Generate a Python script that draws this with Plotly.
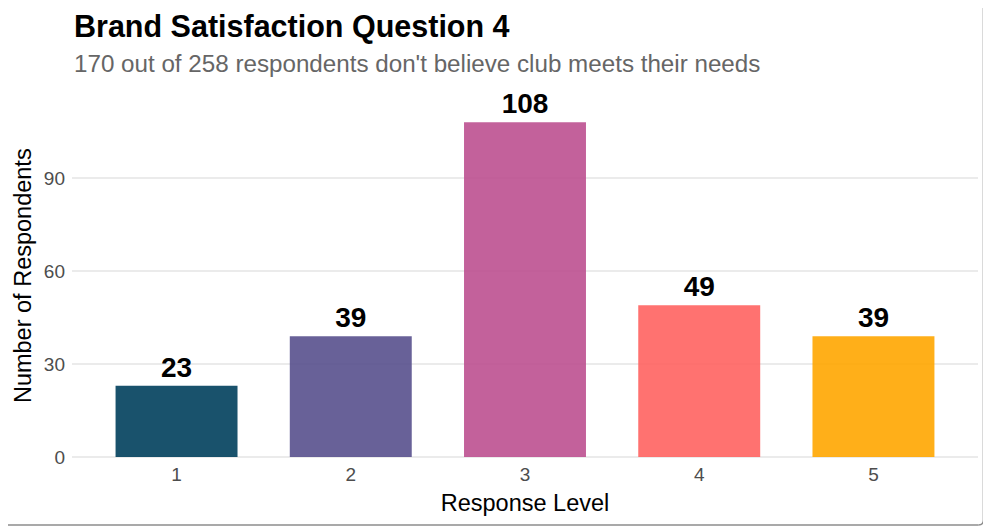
import plotly.graph_objects as go

# data
levels = ["1", "2", "3", "4", "5"]
counts = [23, 39, 108, 49, 39]
bar_colors = ["#003f5c", "#58508d", "#bc5090", "#ff6361", "#ffa600"]

title = "Brand Satisfaction Question 4"
subtitle = "170 out of 258 respondents don't believe club meets their needs"
x_title = "Response Level"
y_title = "Number of Respondents"

FONT = "Liberation Sans, Arial, sans-serif"

fig = go.Figure()
fig.add_trace(go.Bar(
    x=levels, y=counts,
    marker=dict(color=bar_colors, line=dict(width=0), opacity=0.9),
    width=0.7,
    text=[str(c) for c in counts],
    textposition="outside",
    textfont=dict(family=FONT, size=28, color="black", weight="bold"),
    cliponaxis=False,
    showlegend=False,
))

# title + subtitle as annotations so they sit where the reference has them
fig.add_annotation(text=f"<b>{title}</b>", xref="paper", yref="paper",
                   x=0, y=1.19, xanchor="left", yanchor="middle", showarrow=False,
                   font=dict(size=30.5, color="black", family=FONT))
fig.add_annotation(text=subtitle, xref="paper", yref="paper",
                   x=0, y=1.086, xanchor="left", yanchor="middle", showarrow=False,
                   font=dict(size=24.2, color="#666666", family=FONT))
# y axis title placed by hand (closer to the ticks than plotly allows)
fig.add_annotation(text=y_title, xref="paper", yref="paper",
                   x=-0.054, y=0.5, xanchor="center", yanchor="middle",
                   textangle=-90, showarrow=False,
                   font=dict(size=23.5, color="black", family=FONT))

# card outline: bottom edge, rounded corner, right edge
border = dict(color="#8c8c8c", width=1.5)
fig.add_shape(type="line", xref="paper", yref="paper",
              x0=-0.08, x1=1.0005, y0=-0.1878, y1=-0.1878, line=border)
fig.add_shape(type="path", xref="paper", yref="paper",
              path="M 1.0005,-0.1878 Q 1.006,-0.1878 1.006,-0.174", line=border)
fig.add_shape(type="line", xref="paper", yref="paper",
              x0=1.006, x1=1.006, y0=-0.174, y1=1.25, line=border)

fig.update_layout(
    width=981, height=518,
    margin=dict(l=64, r=11, t=87, b=69),
    paper_bgcolor="white",
    plot_bgcolor="white",
    font=dict(family=FONT),
    xaxis=dict(
        title=dict(text=x_title, font=dict(size=23.5, color="black"), standoff=10),
        tickfont=dict(size=19, color="#4d4d4d"),
        ticklabelstandoff=4,
        showgrid=False, zeroline=False, showline=False,
        ticks="", range=[-0.6, 4.6],
    ),
    yaxis=dict(
        tickfont=dict(size=19, color="#4d4d4d"),
        ticklabelstandoff=6,
        tickvals=[0, 30, 60, 90],
        range=[0, 116.8],
        showgrid=True, gridcolor="#ebebeb", gridwidth=2,
        zeroline=True, zerolinecolor="#ebebeb", zerolinewidth=2,
        ticks="",
    ),
    bargap=0.3,
)

fig.write_html("out.html")
